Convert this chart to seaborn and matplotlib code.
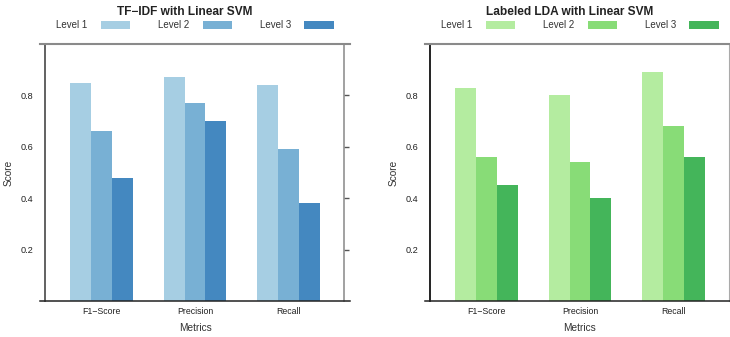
import pandas as pd
import matplotlib
matplotlib.use("Agg")
import matplotlib.pyplot as plt
import seaborn as sns

# values
metrics = ["F1\u2212Score", "Precision", "Recall"]
levels = ["Level 1", "Level 2", "Level 3"]

tfidf_level1 = [0.85, 0.87, 0.84]
tfidf_level2 = [0.66, 0.77, 0.59]
tfidf_level3 = [0.48, 0.70, 0.38]

lda_level1 = [0.83, 0.80, 0.89]
lda_level2 = [0.56, 0.54, 0.68]
lda_level3 = [0.45, 0.40, 0.56]

blues = ["#a6cee3", "#78b0d4", "#4488c0"]
greens = ["#b4eca0", "#88dc77", "#44b55a"]


def to_frame(l1, l2, l3):
    rows = []
    for lev, vals in zip(levels, [l1, l2, l3]):
        for m, v in zip(metrics, vals):
            rows.append({"Metrics": m, "Score": v, "Level": lev})
    return pd.DataFrame(rows)


tfidf = to_frame(tfidf_level1, tfidf_level2, tfidf_level3)
lda = to_frame(lda_level1, lda_level2, lda_level3)

sns.set_style("ticks")
plt.rcParams["font.family"] = ["Liberation Sans", "DejaVu Sans"]

fig = plt.figure(figsize=(7.3, 3.37), dpi=100)
ax1 = fig.add_axes([40 / 730, 36 / 337, 310 / 730, 257 / 337])
ax2 = fig.add_axes([425 / 730, 36 / 337, 310 / 730, 257 / 337])

panels = [
    (ax1, tfidf, blues, "TF\u2212IDF with Linear SVM", "#555555", "#888888", 1.1),
    (ax2, lda, greens, "Labeled LDA with Linear SVM", "#111111", "#aaaaaa", 0.8),
]

for ax, df, pal, title, left_col, right_col, right_lw in panels:
    sns.barplot(data=df, x="Metrics", y="Score", hue="Level", palette=pal,
                width=0.67, saturation=1, ax=ax, errorbar=None,
                linewidth=0, edgecolor="none")
    ax.set_xlim(-0.66, 2.66)
    ax.set_ylim(0, 1)
    ax.set_yticks([0.2, 0.4, 0.6, 0.8])
    ax.set_yticklabels(["0.2", "0.4", "0.6", "0.8"])

    # frame: vertical spines pulled in a bit, horizontal ones run past them
    for side in ["top", "right", "left", "bottom"]:
        ax.spines[side].set_visible(True)
    ax.spines["left"].set_position(("outward", -3.4))
    ax.spines["right"].set_position(("outward", -4.3))
    ax.spines["top"].set_color("#8a8a8a")
    ax.spines["top"].set_linewidth(1.5)
    ax.spines["bottom"].set_color("#222222")
    ax.spines["bottom"].set_linewidth(1.1)
    ax.spines["left"].set_color(left_col)
    ax.spines["left"].set_linewidth(1.3)
    ax.spines["right"].set_color(right_col)
    ax.spines["right"].set_linewidth(right_lw)

    ax.tick_params(axis="y", left=False, right=True, length=3.6, width=1,
                   color="#555555", pad=4.5, labelsize=6.6, labelcolor="#222222")
    ax.tick_params(axis="x", bottom=False, length=0, pad=4, labelsize=6.3,
                   labelcolor="#222222")

    ax.set_xlabel("Metrics", fontsize=7.3, color="#333333")
    ax.set_ylabel("Score", fontsize=7.3, color="#333333")
    ax.xaxis.set_label_coords(0.5, -0.086)
    ax.yaxis.set_label_coords(-0.085, 0.5)

    ax.text(0.468, 1.125, title, transform=ax.transAxes, ha="center",
            va="center", fontsize=8.6, fontweight="bold", color="#222222")

    handles, labels = ax.get_legend_handles_labels()
    ax.legend(handles, labels, loc="center", bbox_to_anchor=(0.5, 1.072),
              ncol=3, frameon=False, markerfirst=False, fontsize=7,
              handlelength=3.0, handleheight=0.95, handletextpad=1.35,
              columnspacing=2.9, borderpad=0, labelcolor="#333333")

fig.savefig("out.png", dpi=100)
